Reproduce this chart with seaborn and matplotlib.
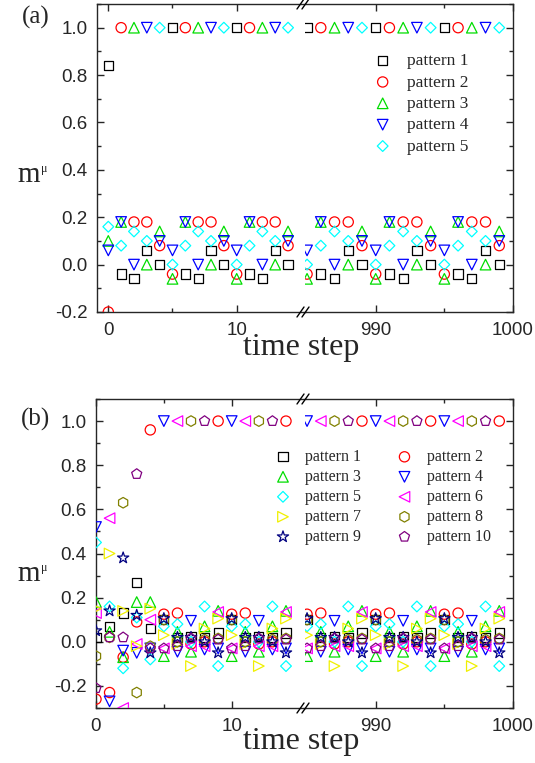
import numpy as np
import pandas as pd
import matplotlib
matplotlib.use("Agg")
import matplotlib.pyplot as plt
import seaborn as sns
from matplotlib.lines import Line2D
from matplotlib.ticker import FixedLocator, MultipleLocator

sns.set_style("ticks")
plt.rcParams["font.family"] = ["Liberation Sans", "DejaVu Sans"]
plt.rcParams["axes.unicode_minus"] = False

# time steps shown on the two sides of the broken axis
steps_left = [0, 1, 2, 3, 4, 5, 6, 7, 8, 9, 10, 11, 12, 13, 14]
steps_right = [985, 986, 987, 988, 989, 990, 991, 992, 993, 994, 995, 996, 997, 998, 999]

# panel (a): 5 patterns, first 15 values = left part, last 15 = right part
a_p1 = [0.84, -0.04, -0.06, 0.06, 0.00, 1.00, -0.04, -0.06, 0.06, 0.00, 1.00, -0.04, -0.06, 0.06, 0.00,
        1.00, -0.04, -0.06, 0.06, 0.00, 1.00, -0.04, -0.06, 0.06, 0.00, 1.00, -0.04, -0.06, 0.06, 0.00]
a_p2 = [-0.20, 1.00, 0.18, 0.18, 0.08, -0.04, 1.00, 0.18, 0.18, 0.08, -0.04, 1.00, 0.18, 0.18, 0.08,
        -0.04, 1.00, 0.18, 0.18, 0.08, -0.04, 1.00, 0.18, 0.18, 0.08, -0.04, 1.00, 0.18, 0.18, 0.08]
a_p3 = [0.10, 0.18, 1.00, 0.00, 0.14, -0.06, 0.18, 1.00, 0.00, 0.14, -0.06, 0.18, 1.00, 0.00, 0.14,
        -0.06, 0.18, 1.00, 0.00, 0.14, -0.06, 0.18, 1.00, 0.00, 0.14, -0.06, 0.18, 1.00, 0.00, 0.14]
a_p4 = [0.06, 0.18, 0.00, 1.00, 0.10, 0.06, 0.18, 0.00, 1.00, 0.10, 0.06, 0.18, 0.00, 1.00, 0.10,
        0.06, 0.18, 0.00, 1.00, 0.10, 0.06, 0.18, 0.00, 1.00, 0.10, 0.06, 0.18, 0.00, 1.00, 0.10]
a_p5 = [0.16, 0.08, 0.14, 0.10, 1.00, 0.00, 0.08, 0.14, 0.10, 1.00, 0.00, 0.08, 0.14, 0.10, 1.00,
        0.00, 0.08, 0.14, 0.10, 1.00, 0.00, 0.08, 0.14, 0.10, 1.00, 0.00, 0.08, 0.14, 0.10, 1.00]

# panel (b): 10 patterns
b_p1 = [0.02, 0.07, 0.13, 0.27, 0.06, 0.10, 0.02, 0.025, 0.02, 0.04, 0.10, 0.02, 0.025, 0.02, 0.04,
        0.10, 0.02, 0.025, 0.02, 0.04, 0.10, 0.02, 0.025, 0.02, 0.04, 0.10, 0.02, 0.025, 0.02, 0.04]
b_p2 = [-0.26, -0.23, -0.07, 0.09, 0.96, 0.125, 0.13, -0.01, 0.00, 1.00, 0.125, 0.13, -0.01, 0.00, 1.00,
        0.125, 0.13, -0.01, 0.00, 1.00, 0.125, 0.13, -0.01, 0.00, 1.00, 0.125, 0.13, -0.01, 0.00, 1.00]
b_p3 = [0.18, 0.045, -0.07, 0.18, 0.18, -0.065, 0.045, -0.045, 0.07, 0.14, -0.065, 0.045, -0.045, 0.07, 0.14,
        -0.065, 0.045, -0.045, 0.07, 0.14, -0.065, 0.045, -0.045, 0.07, 0.14, -0.065, 0.045, -0.045, 0.07, 0.14]
b_p4 = [0.52, -0.27, -0.04, -0.05, -0.03, 1.00, -0.045, 0.095, -0.035, -0.03, 1.00, -0.045, 0.095, -0.035, -0.03,
        1.00, -0.045, 0.095, -0.035, -0.03, 1.00, -0.045, 0.095, -0.035, -0.03, 1.00, -0.045, 0.095, -0.035, -0.03]
b_p5 = [0.45, 0.16, -0.12, 0.11, -0.08, 0.07, 0.08, 0.00, 0.16, -0.11, 0.07, 0.08, 0.00, 0.16, -0.11,
        0.07, 0.08, 0.00, 0.16, -0.11, 0.07, 0.08, 0.00, 0.16, -0.11, 0.07, 0.08, 0.00, 0.16, -0.11]
b_p6 = [0.13, 0.56, -0.30, -0.01, 0.10, -0.03, 1.00, -0.02, -0.02, 0.135, -0.03, 1.00, -0.02, -0.02, 0.135,
        -0.03, 1.00, -0.02, -0.02, 0.135, -0.03, 1.00, -0.02, -0.02, 0.135, -0.03, 1.00, -0.02, -0.02, 0.135]
b_p7 = [0.15, 0.40, 0.14, -0.02, 0.15, 0.03, -0.01, -0.11, 0.06, 0.105, 0.03, -0.01, -0.11, 0.06, 0.105,
        0.03, -0.01, -0.11, 0.06, 0.105, 0.03, -0.01, -0.11, 0.06, 0.105, 0.03, -0.01, -0.11, 0.06, 0.105]
b_p8 = [-0.065, 0.02, 0.63, -0.23, -0.02, 0.10, 0.00, 1.00, 0.01, 0.015, 0.10, 0.00, 1.00, 0.01, 0.015,
        0.10, 0.00, 1.00, 0.01, 0.015, 0.10, 0.00, 1.00, 0.01, 0.015, 0.10, 0.00, 1.00, 0.01, 0.015]
b_p9 = [0.05, 0.14, 0.38, 0.12, -0.05, 0.105, 0.02, 0.02, 0.00, -0.05, 0.105, 0.02, 0.02, 0.00, -0.05,
        0.105, 0.02, 0.02, 0.00, -0.05, 0.105, 0.02, 0.02, 0.00, -0.05, 0.105, 0.02, 0.02, 0.00, -0.05]
b_p10 = [-0.21, 0.02, 0.02, 0.76, -0.03, -0.03, -0.02, 0.015, 1.00, 0.01, -0.03, -0.02, 0.015, 1.00, 0.01,
         -0.03, -0.02, 0.015, 1.00, 0.01, -0.03, -0.02, 0.015, 1.00, 0.01, -0.03, -0.02, 0.015, 1.00, 0.01]

names = ["pattern 1", "pattern 2", "pattern 3", "pattern 4", "pattern 5",
         "pattern 6", "pattern 7", "pattern 8", "pattern 9", "pattern 10"]
markers = ["s", "o", "^", "v", "D", "<", ">", "h", "*", "p"]
colors = ["black", "red", "#00dd00", "blue", "cyan", "magenta", "#f0f000", "#808000", "navy", "purple"]
sizes = [44, 54, 58, 58, 30, 58, 58, 58, 72, 58]

W, H = 535, 763
fig = plt.figure(figsize=(W / 100, H / 100), dpi=100)
serif = ["Liberation Serif", "DejaVu Serif"]


def fx(px):
    return px / W


def fy(py):
    return 1 - py / H


def breakmark(ypx):
    for dx in (0, 5):
        fig.add_artist(Line2D([fx(297 + dx), fx(304 + dx)], [fy(ypx + 5), fy(ypx - 5)],
                              color="black", lw=1.0, transform=fig.transFigure))


def panel(top, bottom, left_px, xlim_l, ylim, series):
    h = (bottom - top) / H
    ax_l = fig.add_axes([fx(left_px), fy(bottom), fx(305 - left_px), h])
    ax_r = fig.add_axes([fx(305), fy(bottom), fx(513 - 305), h], sharey=ax_l)
    handles = []
    for i, vals in enumerate(series):
        for ax, steps, part in ((ax_l, steps_left, vals[:15]), (ax_r, steps_right, vals[15:])):
            sns.scatterplot(x=steps, y=part, ax=ax, marker=markers[i], s=sizes[i],
                            color=colors[i], facecolor="none", edgecolor=colors[i],
                            linewidth=0.9, legend=False, zorder=3)
        handles.append(ax_l.collections[-1])
    ax_l.set_xlim(*xlim_l)
    ax_r.set_xlim(984.85, 1000)
    ax_l.set_ylim(*ylim)
    ax_l.spines["right"].set_visible(False)
    ax_r.spines["left"].set_visible(False)
    ax_l.xaxis.set_major_locator(FixedLocator([0, 10]))
    ax_l.xaxis.set_minor_locator(FixedLocator([5]))
    ax_r.xaxis.set_major_locator(FixedLocator([990, 1000]))
    ax_r.xaxis.set_minor_locator(FixedLocator([995]))
    ax_l.yaxis.set_major_locator(MultipleLocator(0.2))
    ax_l.yaxis.set_minor_locator(MultipleLocator(0.1))
    for ax in (ax_l, ax_r):
        ax.set_xlabel("")
        ax.set_ylabel("")
        for sp in ax.spines.values():
            sp.set_linewidth(1.0)
        ax.tick_params(which="both", direction="in", top=True, width=1.0, labelsize=13.5, pad=7)
        ax.tick_params(which="major", length=5)
        ax.tick_params(which="minor", length=3)
    ax_l.tick_params(which="both", left=True, right=False)
    ax_r.tick_params(which="both", left=False, right=True, labelleft=False, labelright=False)
    ax_l.yaxis.set_major_formatter(matplotlib.ticker.FormatStrFormatter("%.1f"))
    breakmark(top)
    breakmark(bottom)
    return ax_l, ax_r, handles


# panel (a)
a_l, a_r, a_h = panel(4, 312, 97, (-0.88, 15.32), (-0.2, 1.1), [a_p1, a_p2, a_p3, a_p4, a_p5])
a_r.legend(a_h, names[:5], loc="upper left", bbox_to_anchor=(fx(374), fy(53)),
           bbox_transform=fig.transFigure, frameon=False, borderpad=0, borderaxespad=0,
           handlelength=1.0, handletextpad=0.9, labelspacing=0.3, scatterpoints=1,
           prop={"family": serif, "size": 12.5})

# panel (b)
b_series = [b_p1, b_p2, b_p3, b_p4, b_p5, b_p6, b_p7, b_p8, b_p9, b_p10]
b_l, b_r, b_h = panel(399, 708, 96, (0, 15.4), (-0.3, 1.1), b_series)
order = [0, 2, 4, 6, 8, 1, 3, 5, 7, 9]
leg = b_r.legend([b_h[k] for k in order], [names[k] for k in order], ncol=2,
                 loc="upper left", bbox_to_anchor=(fx(275), fy(449)),
                 bbox_transform=fig.transFigure, frameon=False, borderpad=0, borderaxespad=0,
                 handlelength=1.0, handletextpad=0.9, labelspacing=0.25, columnspacing=2.2,
                 scatterpoints=1, prop={"family": serif, "size": 11.5})
leg.set_zorder(10)

for ytop, tag, ylab, xlab in ((17, "(a)", 175, 348), (419, "(b)", 574, 742)):
    fig.text(fx(36), fy(ytop), tag, family=serif, fontsize=18, ha="center", va="center")
    fig.text(fx(29), fy(ylab), "m", family=serif, fontsize=21, ha="center", va="center")
    fig.text(fx(41), fy(ylab - 6), "\u03bc", family=serif, fontsize=8.5, ha="left", va="center")
    fig.text(fx(301), fy(xlab), "time step", family=serif, fontsize=23, ha="center", va="center")

fig.savefig("out.png", dpi=100)
